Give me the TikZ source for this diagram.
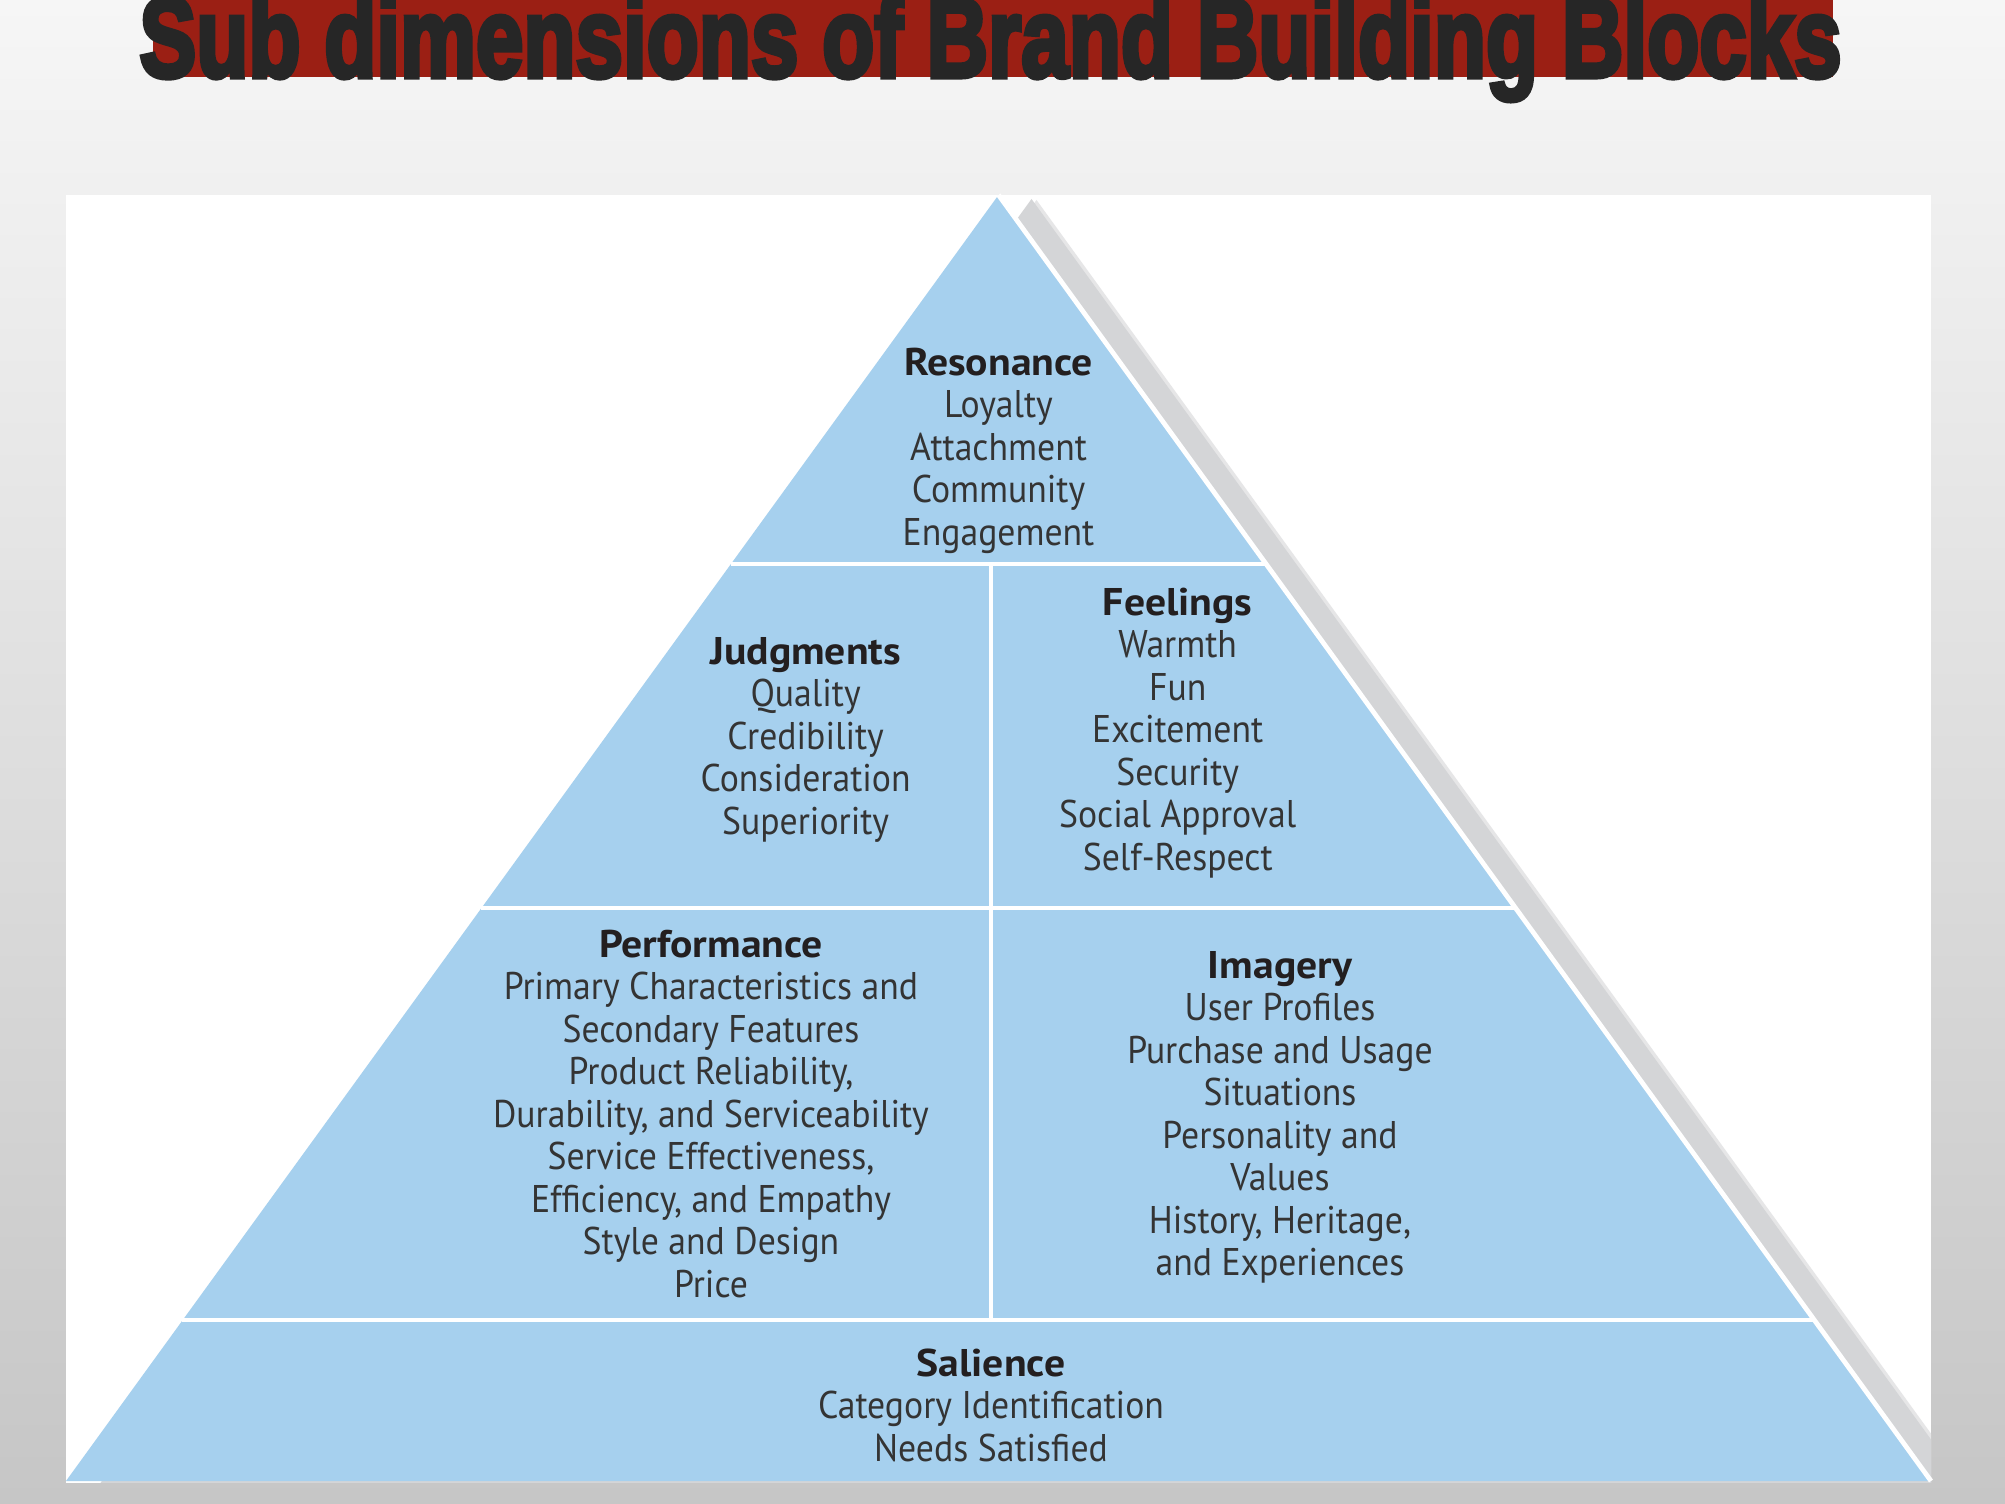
\documentclass[tikz,border=0pt]{standalone}
\usepackage{fontspec}
\setmainfont{PT Sans}[FakeStretch=0.925]
\newfontfamily\headfont{PT Sans}[FakeStretch=1.08]
\newfontfamily\titlefont{Liberation Sans}[FakeBold=4.5]
\usetikzlibrary{calc}
\definecolor{bgtop}{RGB}{246,246,246}
\definecolor{bgbot}{RGB}{198,198,198}
\definecolor{titlered}{RGB}{155,31,20}
\definecolor{titledark}{RGB}{38,38,38}
\definecolor{pyrblue}{RGB}{166,208,238}
\definecolor{shadowgray}{RGB}{212,213,215}
\definecolor{shadowlight}{RGB}{230,230,231}
\definecolor{bodygray}{RGB}{52,52,52}
\definecolor{headblack}{RGB}{35,31,32}
\newcommand{\blkhead}[1]{\rule{0pt}{16pt}{\headfont\bfseries\color{headblack}#1}}
\tikzset{
  blk/.style={align=center, inner sep=0pt, anchor=north,
    font=\fontsize{19.3}{21.25}\selectfont, text=bodygray},
  divider/.style={draw=white, line width=2pt},
}
\begin{document}
\begin{tikzpicture}[x=0.5pt,y=-0.5pt]
\useasboundingbox (0,0) rectangle (2005,1503);
\fill[top color=bgtop, bottom color=bgbot] (0,0) rectangle (2005,1503);
% title
\fill[titlered] (153,0) rectangle (1833,77);
\node[anchor=base west, inner sep=0pt, text=titledark] (title) at (139,77)
  {\titlefont\bfseries\resizebox{851pt}{41pt}{Sub dimensions of Brand Building Blocks}};
% panel
\fill[white] (66,195) rectangle (1931,1483);
\coordinate (apex) at (998.5,195);
\coordinate (bl) at (66,1481);
\coordinate (br) at (1931,1481);
% shadow
\begin{scope}
  \clip (66,195) rectangle (1931,1482);
  \fill[shadowlight] ($(apex)+(38,5)$) -- ($(bl)+(38,5)$) -- ($(br)+(38,5)$) -- cycle;
  \fill[shadowgray] ($(apex)+(33,4)$) -- ($(bl)+(33,4)$) -- ($(br)+(33,4)$) -- cycle;
\end{scope}
% pyramid
\fill[pyrblue] (apex) -- (bl) -- (br) -- cycle;
\draw[white, line width=2.4pt] (apex) -- (br);
% dividers
\coordinate (h1l) at (730.8,564);  \coordinate (h1r) at (1266.2,564);
\coordinate (h2l) at (481.2,908);  \coordinate (h2r) at (1515.8,908);
\coordinate (h3l) at (182.3,1320); \coordinate (h3r) at (1814.7,1320);
\coordinate (vt) at (991,564); \coordinate (vb) at (991,1320);
\draw[divider] (h1l) -- (h1r);
\draw[divider] (h2l) -- (h2r);
\draw[divider] (h3l) -- (h3r);
\draw[divider] (vt) -- (vb);
% texts
\node[blk] (resonance) at (998.5,343) {\blkhead{Resonance}\\Loyalty\\Attachment\\Community\\Engagement};
\node[blk] (judgments) at (805.6,632) {\blkhead{Judgments}\\Quality\\Credibility\\Consideration\\Superiority};
\node[blk] (feelings) at (1177.7,583) {\blkhead{Feelings}\\Warmth\\Fun\\Excitement\\Security\\Social Approval\\Self-Respect};
\node[blk] (performance) at (711,925) {\blkhead{Performance}\\Primary Characteristics and\\Secondary Features\\Product Reliability,\\Durability, and Serviceability\\Service Effectiveness,\\Efficiency, and Empathy\\Style and Design\\Price};
\node[blk] (imagery) at (1280,946) {\blkhead{Imagery}\\User Profiles\\Purchase and Usage\\Situations\\Personality and\\Values\\History, Heritage,\\and Experiences};
\node[blk] (salience) at (991,1344) {\blkhead{Salience}\\Category Identification\\Needs Satisfied};
\end{tikzpicture}
\end{document}
